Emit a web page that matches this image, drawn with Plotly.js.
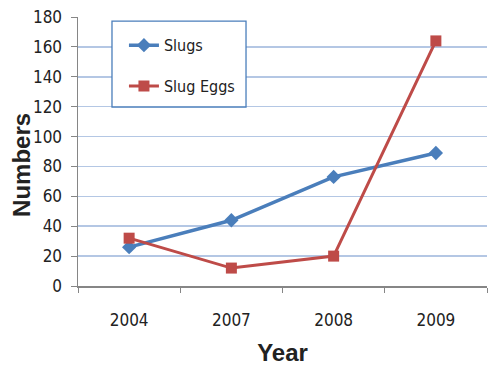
<!DOCTYPE html>
<html>
<head>
<meta charset="utf-8">
<script src="https://cdn.plot.ly/plotly-3.0.1.min.js"></script>
<style>
html,body{margin:0;padding:0;background:#fff;}
#chart{width:491px;height:366px;}
#chart .xtick text, #chart .ytick text, #chart .legendtext { font-stretch: condensed !important; }
</style>
</head>
<body>
<div id="chart"></div>
<script>
const years = ["2004", "2007", "2008", "2009"];
const slugs = [26, 44, 73, 89];
const slugEggs = [32, 12, 20, 164];
const yTicks = [0, 20, 40, 60, 80, 100, 120, 140, 160, 180];

const narrow = "'DejaVu Sans Condensed', 'DejaVu Sans', sans-serif";
const bold = "'Liberation Sans', Arial, sans-serif";

const traces = [
  {x: years, y: slugs, name: "Slugs", type: "scatter", mode: "lines+markers",
   legendgroup: "a",
   line: {color: "#4A7EBB", width: 3.5},
   marker: {symbol: "diamond", size: 11, color: "#4A7EBB"}},
  {x: years, y: slugEggs, name: "Slug Eggs", type: "scatter", mode: "lines+markers",
   legendgroup: "b",
   line: {color: "#BE4B48", width: 3},
   marker: {symbol: "square", size: 11, color: "#BE4B48"}}
];

const layout = {
  width: 491, height: 366,
  margin: {l: 78, r: 4, t: 17, b: 80},
  paper_bgcolor: "#fff", plot_bgcolor: "#fff",
  showlegend: true,
  shapes: [{type: "rect", xref: "paper", yref: "paper", layer: "above",
            x0: 0.0831, x1: 0.4108, y0: 0.6654, y1: 0.985,
            line: {color: "#4A7EBB", width: 1.3}, fillcolor: "#fff"}],
  annotations: [{text: "Numbers", textangle: -90, showarrow: false,
                 xref: "paper", yref: "paper", x: -0.137, y: 0.45,
                 xanchor: "center", yanchor: "middle",
                 font: {family: bold, size: 24, color: "#222", weight: "bold"}}],
  legend: {x: 0.083, y: 0.958, xanchor: "left", yanchor: "top",
           borderwidth: 0, bgcolor: "rgba(0,0,0,0)",
           indentation: 12,
           font: {family: narrow, size: 16, color: "#222"},
           tracegroupgap: 17, itemwidth: 30},
  xaxis: {type: "category", tickvals: years, ticktext: years, range: [-0.5, 3.5],
          tickson: "boundaries", ticks: "outside", ticklen: 5, tickcolor: "#868686",
          showline: true, linecolor: "#868686", linewidth: 2, showgrid: false,
          ticklabelstandoff: 18,
          tickfont: {family: narrow, size: 17, color: "#222"},
          title: {text: "Year", font: {family: bold, size: 24, color: "#222", weight: "bold"}, standoff: 20},
          fixedrange: true},
  yaxis: {range: [0, 180], tickvals: yTicks, ticks: "outside", ticklen: 6, tickcolor: "#868686",
          showline: true, linecolor: "#868686", linewidth: 1.5,
          gridcolor: "#B4C7E4", gridwidth: 1.5, zeroline: false,
          ticklabelstandoff: 5,
          tickfont: {family: narrow, size: 17, color: "#222"},
          fixedrange: true}
};

Plotly.newPlot("chart", traces, layout, {displayModeBar: false, staticPlot: true});
</script>
</body>
</html>
